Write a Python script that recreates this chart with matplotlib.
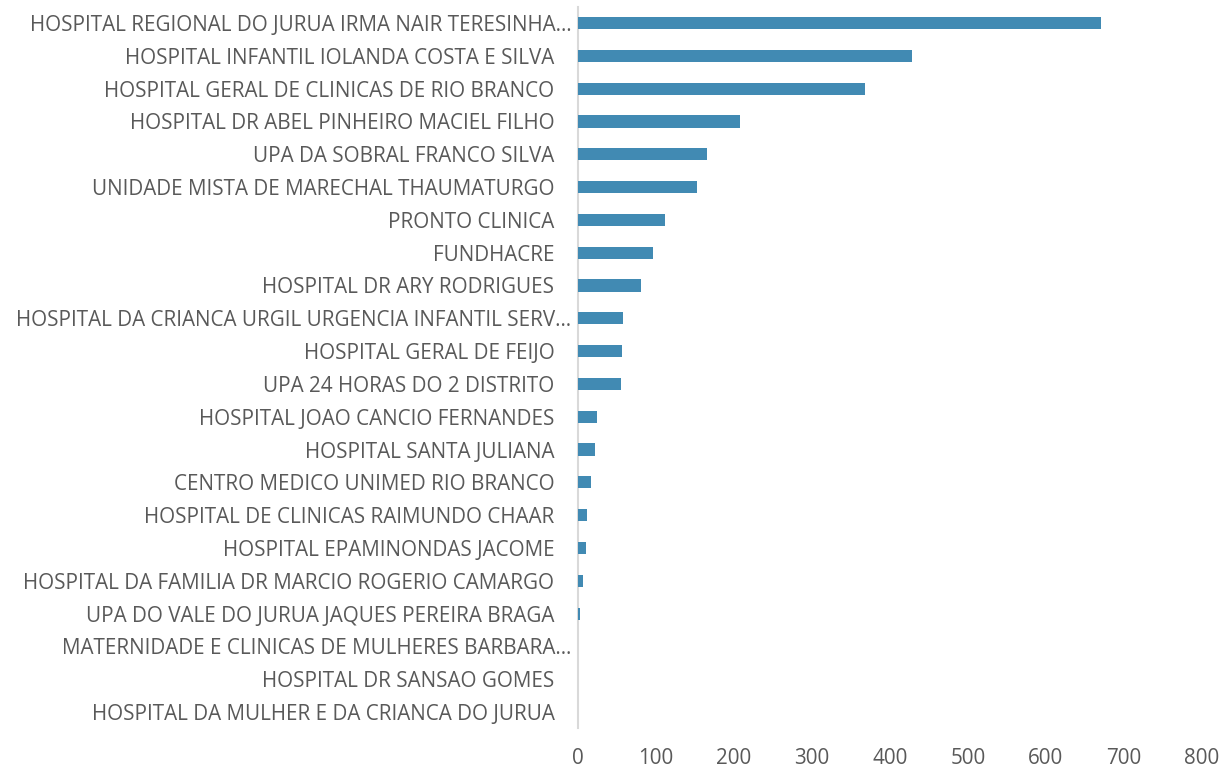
import matplotlib
matplotlib.use("Agg")
import matplotlib.pyplot as plt
from matplotlib.transforms import ScaledTranslation

categories = [
    "HOSPITAL REGIONAL DO JURUA IRMA NAIR TERESINHA…",
    "HOSPITAL INFANTIL IOLANDA COSTA E SILVA",
    "HOSPITAL GERAL DE CLINICAS DE RIO BRANCO",
    "HOSPITAL DR ABEL PINHEIRO MACIEL FILHO",
    "UPA DA SOBRAL FRANCO SILVA",
    "UNIDADE MISTA DE MARECHAL THAUMATURGO",
    "PRONTO CLINICA",
    "FUNDHACRE",
    "HOSPITAL DR ARY RODRIGUES",
    "HOSPITAL DA CRIANCA URGIL URGENCIA INFANTIL SERV…",
    "HOSPITAL GERAL DE FEIJO",
    "UPA 24 HORAS DO 2 DISTRITO",
    "HOSPITAL JOAO CANCIO FERNANDES",
    "HOSPITAL SANTA JULIANA",
    "CENTRO MEDICO UNIMED RIO BRANCO",
    "HOSPITAL DE CLINICAS RAIMUNDO CHAAR",
    "HOSPITAL EPAMINONDAS JACOME",
    "HOSPITAL DA FAMILIA DR MARCIO ROGERIO CAMARGO",
    "UPA DO VALE DO JURUA JAQUES PEREIRA BRAGA",
    "MATERNIDADE E CLINICAS DE MULHERES BARBARA…",
    "HOSPITAL DR SANSAO GOMES",
    "HOSPITAL DA MULHER E DA CRIANCA DO JURUA",
]
values = [671, 428, 368, 208, 166, 153, 112, 96, 81, 58, 57, 55,
          24, 22, 17, 11, 10, 7, 2, 0, 0, 0]
xticks = [0, 100, 200, 300, 400, 500, 600, 700, 800]

plt.rcParams['font.family'] = ['Open Sans', 'DejaVu Sans']
text_color = "#595959"

fig = plt.figure(figsize=(12.21, 7.70), dpi=100)
ax = fig.add_axes([0.4734, 0.054, 0.5110, 0.9374])

ypos = list(range(len(categories)))
ax.barh(ypos, values, height=0.37, color="#418AB3")
ax.set_ylim(len(categories) - 0.5, -0.5)
ax.set_xlim(0, 800)
ax.set_xticks(xticks)
ax.set_xticklabels([str(t) for t in xticks])
ax.set_yticks(ypos)
ax.set_yticklabels(categories)

for s in ["top", "right", "bottom"]:
    ax.spines[s].set_visible(False)
ax.spines["left"].set_color("#D9D9D9")
ax.spines["left"].set_linewidth(1.5)
ax.spines["left"].set_zorder(0)

ax.tick_params(axis="both", length=0, labelsize=14.9, colors=text_color)
ax.tick_params(axis="x", pad=14)
ax.tick_params(axis="y", pad=17)

for lbl in ax.get_yticklabels():
    if lbl.get_text().endswith("…"):
        lbl.set_transform(lbl.get_transform() + ScaledTranslation(17/100, 0, fig.dpi_scale_trans))

fig.savefig("out.png", dpi=100)
